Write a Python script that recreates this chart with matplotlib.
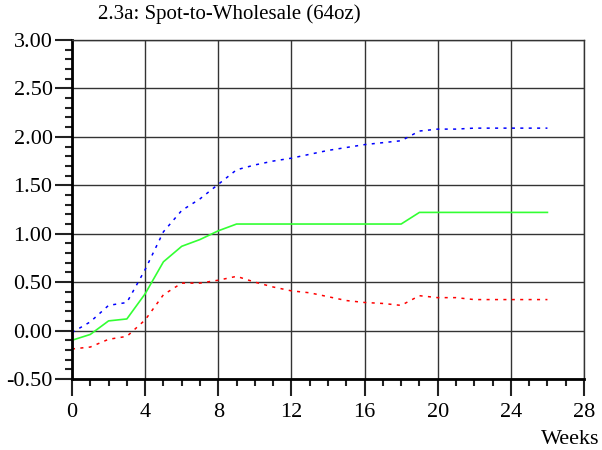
import matplotlib
matplotlib.use('Agg')
import matplotlib.pyplot as plt
from matplotlib.ticker import MultipleLocator, FormatStrFormatter

weeks = list(range(0, 27))

upper = [-0.02, 0.09, 0.26, 0.29, 0.63, 1.02, 1.24, 1.36, 1.51, 1.66, 1.71, 1.75, 1.78,
         1.82, 1.86, 1.89, 1.92, 1.94, 1.96, 2.06, 2.08, 2.08, 2.09, 2.09, 2.09, 2.09, 2.09]
middle = [-0.10, -0.04, 0.10, 0.12, 0.38, 0.71, 0.87, 0.94, 1.03, 1.10, 1.10, 1.10, 1.10,
          1.10, 1.10, 1.10, 1.10, 1.10, 1.10, 1.22, 1.22, 1.22, 1.22, 1.22, 1.22, 1.22, 1.22]
lower = [-0.19, -0.17, -0.09, -0.06, 0.11, 0.37, 0.49, 0.49, 0.52, 0.56, 0.50, 0.45, 0.41,
         0.39, 0.35, 0.31, 0.29, 0.28, 0.26, 0.36, 0.34, 0.34, 0.32, 0.32, 0.32, 0.32, 0.32]

plt.rcParams['font.family'] = ['Liberation Serif', 'DejaVu Serif']

fig = plt.figure(figsize=(6.02, 4.5), dpi=100)
ax = fig.add_axes([72 / 602, 1 - 379 / 450, (584 - 72) / 602, (379 - 40) / 450])

# dotted upper/lower bands, solid middle line
ax.plot(weeks, upper, color='#0000ff', linewidth=1.1, linestyle=(0, (2, 3.5)))
ax.plot(weeks, middle, color='#33ff33', linewidth=1.2)
ax.plot(weeks, lower, color='#ff0000', linewidth=1.1, linestyle=(0, (2, 3.5)))

ax.set_xlim(0, 28)
ax.set_ylim(-0.5, 3.0)
ax.xaxis.set_major_locator(MultipleLocator(4))
ax.xaxis.set_minor_locator(MultipleLocator(1))
ax.yaxis.set_major_locator(MultipleLocator(0.5))
ax.yaxis.set_minor_locator(MultipleLocator(0.1))
ax.yaxis.set_major_formatter(FormatStrFormatter('%.2f'))

ax.grid(True, which='major', color='#333333', linewidth=1.0)
ax.set_axisbelow(True)

for side in ['left', 'bottom']:
    ax.spines[side].set_linewidth(2)
    ax.spines[side].set_color('black')
for side in ['top', 'right']:
    ax.spines[side].set_linewidth(1)
    ax.spines[side].set_color('#333333')

ax.tick_params(which='major', direction='out', length=12, width=1.5, labelsize=16, pad=2, color='#222222')
ax.tick_params(which='minor', direction='out', length=5, width=1.5, color='#222222')
ax.tick_params(axis='x', which='major', pad=5)

fig.text(98 / 602, 1 - 14 / 450, '2.3a: Spot-to-Wholesale (64oz)', fontsize=15, va='center', ha='left')
fig.text(599 / 602, 1 - 440 / 450, 'Weeks', fontsize=16, va='center', ha='right')

fig.savefig('out.png', dpi=100)
